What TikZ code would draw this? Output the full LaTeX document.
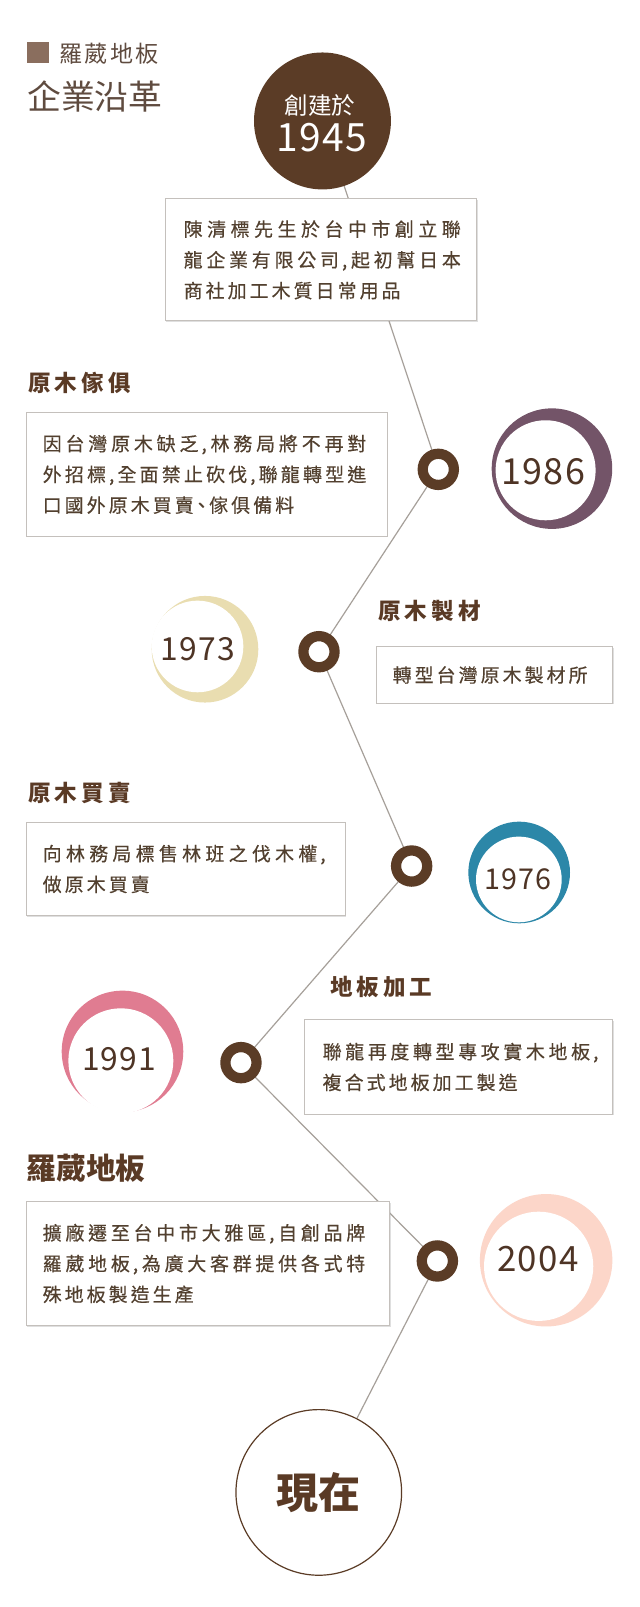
\documentclass[tikz,border=0pt]{standalone}
\usepackage{fontspec}
\setmainfont{Noto Sans CJK TC}
\newfontfamily\BoxFam{Noto Sans CJK TC}[LetterSpace=16,RawFeature=+palt,FakeBold=0.4]
\newfontfamily\TitleFam{Noto Sans CJK TC}[LetterSpace=18]
\newfontfamily\BrandFam{Noto Sans CJK TC}[LetterSpace=10]
\newfontfamily\NumFam{Noto Sans CJK TC}[LetterSpace=4]
\newfontfamily\PlainFam{Noto Sans CJK TC}
\XeTeXlinebreaklocale "zh"
\XeTeXlinebreakskip=2.96pt plus 6pt
\usetikzlibrary{shadows,backgrounds}
\definecolor{brownDark}{HTML}{5B3C26}
\definecolor{titleBrown}{HTML}{5A3A25}
\definecolor{boxText}{HTML}{52402F}
\definecolor{numText}{HTML}{4E3425}
\definecolor{sqBrown}{HTML}{8A6E5E}
\definecolor{headText}{HTML}{5F4B3F}
\definecolor{boxBorder}{HTML}{C4C0BC}
\definecolor{lineGray}{HTML}{A6A09A}
\definecolor{cA}{HTML}{735468}
\definecolor{cB}{HTML}{E9DDB0}
\definecolor{cC}{HTML}{2C87A8}
\definecolor{cD}{HTML}{E07C91}
\definecolor{cE}{HTML}{FCD6C9}
\begin{document}
\begin{tikzpicture}[x=1pt,y=-1pt,scale=1.025,
  every node/.style={transform shape, inner sep=0pt, outer sep=0pt},
  ring/.style={circle, draw=brownDark, line width=10.25pt, fill=white, minimum size=30.4pt},
  link/.style={draw=lineGray, line width=1.2pt},
  infobox/.style={rectangle, draw=boxBorder, line width=1pt, fill=white,
    drop shadow={shadow xshift=1.2pt, shadow yshift=-1.2pt, fill=black!35, opacity=0.35}},
  boxtxt/.style={anchor=west, align=justify, text=boxText, font=\BoxFam\fontsize{18.5pt}{30pt}\selectfont},
  title/.style={anchor=west, text=titleBrown, font=\TitleFam\bfseries\fontsize{22pt}{26pt}\selectfont},
  outerdisk/.style={circle},
  innerdisk/.style={circle, fill=white},
  year/.style={text=numText}
]
\useasboundingbox (0,0) rectangle (624.39,1567.8);

% header
\node[fill=sqBrown, minimum width=21.8pt, minimum height=20.5pt] (hsq) at (36.9,51) {};
\node[anchor=west, text=headText, font=\BrandFam\fontsize{22.5pt}{26pt}\selectfont] (hbrand) at (57.9,52) {羅葳地板};
\node[anchor=west, text=headText, font=\PlainFam\fontsize{33pt}{38pt}\selectfont] (htitle) at (26.6,93.7) {企業沿革};

% start circle
\node[circle, fill=brownDark, minimum size=133.6pt] (c1945) at (314.6,118) {};
\node[text=white, font=\PlainFam\fontsize{23pt}{26pt}\selectfont] (t1945a) at (312.2,103.2) {創建於};
\node[text=white, font=\NumFam\fontsize{38pt}{42pt}\selectfont] (t1945b) at (313.8,134.1) {1945};

% boxes
\node[infobox, minimum width=304pt, minimum height=119pt] (b1) at (313,253.5) {};
\node[boxtxt, text width=270.4pt] (bt1) at (179.2,253.5)
  {\noindent 陳清標先生於台中市創立聯\linebreak 龍企業有限公司,起初幫日本\linebreak 商社加工木質日常用品};
\node[infobox, minimum width=352.2pt, minimum height=120.4pt] (b2) at (201.5,462.8) {};
\node[boxtxt, text width=315.7pt] (bt2) at (41.7,462.8)
  {\noindent 因台灣原木缺乏,林務局將不再對\linebreak 外招標,全面禁止砍伐,聯龍轉型進\linebreak 口國外原木買賣、傢俱備料};
\node[infobox, minimum width=229.9pt, minimum height=55pt] (b3) at (482.45,658.5) {};
\node[boxtxt, text width=205pt] (bt3) at (383.1,658.5)
  {\noindent 轉型台灣原木製材所};
\node[infobox, minimum width=311.2pt, minimum height=90.4pt] (b4) at (181,847.8) {};
\node[boxtxt, text width=276pt] (bt4) at (41.7,847.8)
  {\noindent 向林務局標售林班之伐木權,\linebreak 做原木買賣};
\node[infobox, minimum width=300.8pt, minimum height=91.9pt] (b5) at (447,1041) {};
\node[boxtxt, text width=269pt] (bt5) at (314.8,1041)
  {\noindent 聯龍再度轉型專攻實木地板,\linebreak 複合式地板加工製造};
\node[infobox, minimum width=354.4pt, minimum height=120.6pt] (b6) at (202.6,1232.7) {};
\node[boxtxt, text width=314.7pt] (bt6) at (41.7,1232.7)
  {\noindent 擴廠遷至台中市大雅區,自創品牌\linebreak 羅葳地板,為廣大客群提供各式特\linebreak 殊地板製造生產};

% titles
\node[title] (ti2) at (27.6,374) {原木傢俱};
\node[title] (ti3) at (369,596) {原木製材};
\node[title] (ti4) at (27.6,773.2) {原木買賣};
\node[title] (ti5) at (322,962.6) {地板加工};
\node[title, font=\PlainFam\bfseries\fontsize{29pt}{32pt}\selectfont] (ti6) at (26,1139.8) {羅葳地板};

% rings
\node[ring] (r1) at (427.6,457.9) {};
\node[ring] (r2) at (311.2,635.8) {};
\node[ring] (r3) at (401.6,844.9) {};
\node[ring] (r4) at (235.1,1036.7) {};
\node[ring] (r5) at (426.7,1230.2) {};

% year crescents
\node[outerdisk, fill=cA, minimum size=117.6pt] (o1986) at (538.5,457.2) {};
\node[innerdisk, minimum size=97.6pt] (i1986) at (532.3,458.8) {};
\node[year, font=\NumFam\fontsize{35pt}{38pt}\selectfont] (y1986) at (530,460.5) {1986};

\node[outerdisk, fill=cB, minimum size=104pt] (o1973) at (200,633.4) {};
\node[innerdisk, minimum size=89.4pt] (i1973) at (192.7,630.7) {};
\node[year, font=\NumFam\fontsize{31pt}{34pt}\selectfont] (y1973) at (192.7,633) {1973};

\node[outerdisk, fill=cC, minimum size=99.2pt] (o1976) at (506.5,851.2) {};
\node[innerdisk, minimum size=83.6pt] (i1976) at (506.2,858) {};
\node[year, font=\NumFam\fontsize{28pt}{31pt}\selectfont] (y1976) at (505.5,857.9) {1976};

\node[outerdisk, fill=cD, minimum size=118.6pt] (o1991) at (119.5,1025.8) {};
\node[innerdisk, minimum size=102.4pt] (i1991) at (117.9,1034.9) {};
\node[year, font=\NumFam\fontsize{31pt}{34pt}\selectfont] (y1991) at (116.3,1033.3) {1991};

\node[outerdisk, fill=cE, minimum size=129.2pt] (o2004) at (532.8,1229.5) {};
\node[innerdisk, minimum size=106.6pt] (i2004) at (525.5,1235.4) {};
\node[year, font=\NumFam\fontsize{34pt}{37pt}\selectfont] (y2004) at (524.8,1228) {2004};

% end circle
\node[circle, draw=brownDark, line width=1.2pt, fill=white, minimum size=161.6pt,
  text=titleBrown, font=\PlainFam\bfseries\fontsize{41pt}{44pt}\selectfont] (now) at (311,1456) {現在};

% background and connectors
\begin{scope}[on background layer]
\fill[white] (0,0) rectangle (624.39,1567.8);
\draw[link] (c1945.center) -- (r1.center);
\draw[link] (r1.center) -- (r2.center);
\draw[link] (r2.center) -- (r3.center);
\draw[link] (r3.center) -- (r4.center);
\draw[link] (r4.center) -- (r5.center);
\draw[link] (r5.center) -- (now.center);
\end{scope}
\end{tikzpicture}
\end{document}
